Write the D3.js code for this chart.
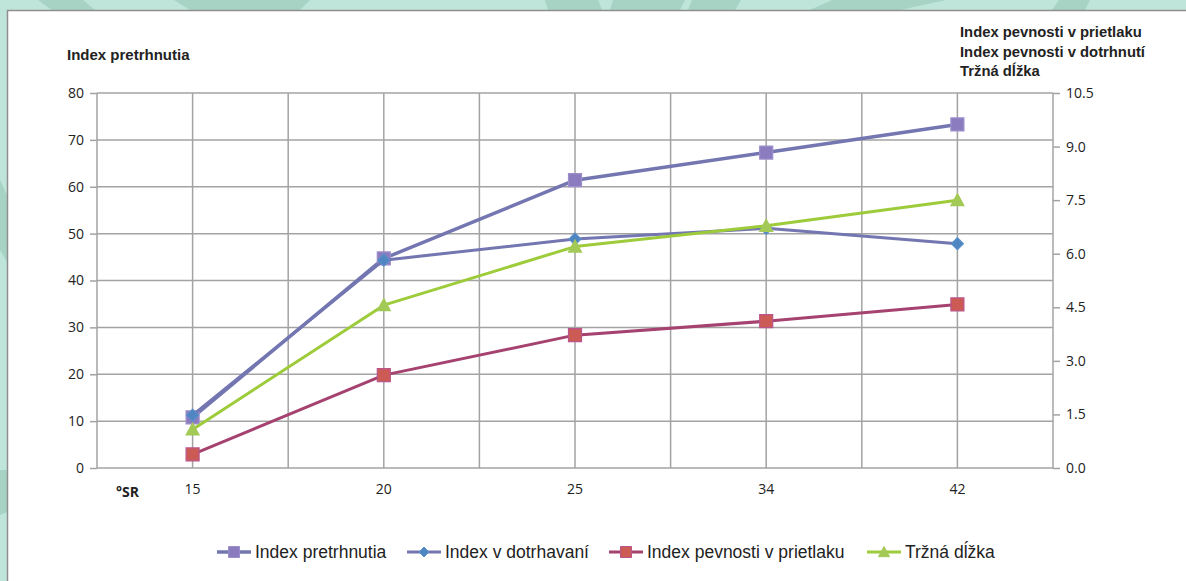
<!DOCTYPE html>
<html>
<head>
<meta charset="utf-8">
<script src="https://cdn.jsdelivr.net/npm/d3@7"></script>
<style>
  body { margin: 0; background: #bfe4d9; }
  svg { display: block; }
</style>
</head>
<body>
<div id="chart"></div>
<script>
// Chart data
const categories = ["15", "20", "25", "34", "42"];
const indexPretrhnutia = [10.8, 44.7, 61.4, 67.3, 73.3];      // left axis
const indexDotrhavani = [1.48, 5.82, 6.41, 6.71, 6.28];        // right axis
const indexPrietlaku = [0.38, 2.60, 3.72, 4.11, 4.58];         // right axis
const trznaDlzka = [1.08, 4.56, 6.20, 6.78, 7.50];             // right axis
const leftTicks = [0, 10, 20, 30, 40, 50, 60, 70, 80];
const rightTicks = [0, 1.5, 3, 4.5, 6, 7.5, 9, 10.5];

const width = 1186;
const height = 581;
const plot = { left: 97, right: 1053, top: 93, bottom: 468 };

const svg = d3.select("#chart").append("svg")
    .attr("width", width)
    .attr("height", height);

// Decorative background shapes
const bgShapes = [
    [[38, 0], [83, 0], [95, 10], [52, 10]],
    [[174, 0], [310, 0], [300, 10], [190, 10]],
    [[545, 0], [598, 0], [602, 10], [548, 10]],
    [[613, 0], [685, 0], [680, 10], [610, 10]],
    [[692, 0], [741, 0], [735, 10], [688, 10]],
    [[832, 0], [946, 0], [900, 10], [810, 10]],
    [[1059, 0], [1090, 0], [1085, 10], [1052, 10]],
    [[0, 180], [7, 195], [7, 262], [0, 250]],
    [[0, 470], [7, 470], [7, 512], [0, 515]]
];
svg.selectAll(".bg")
    .data(bgShapes)
    .enter().append("polygon")
    .attr("points", d => d.map(p => p.join(",")).join(" "))
    .attr("fill", "#a6d3c4");

// White panel
svg.append("rect")
    .attr("x", 7.5).attr("y", 10.5)
    .attr("width", width).attr("height", height)
    .attr("fill", "#ffffff")
    .attr("stroke", "#8f8f8f")
    .attr("stroke-width", 1.5);

// Scales
const x = d3.scaleBand()
    .domain(categories)
    .range([plot.left, plot.right])
    .padding(0);
const cx = d => x(d) + x.bandwidth() / 2;

const yLeft = d3.scaleLinear().domain([0, 80]).range([plot.bottom, plot.top]);
const yRight = d3.scaleLinear().domain([0, 10.5]).range([plot.bottom, plot.top]);

const gridColor = "#a3a3a3";
const grid = svg.append("g");

// Horizontal gridlines
grid.selectAll(".hgrid")
    .data(leftTicks)
    .enter().append("line")
    .attr("x1", plot.left).attr("x2", plot.right)
    .attr("y1", d => yLeft(d)).attr("y2", d => yLeft(d))
    .attr("stroke", gridColor).attr("stroke-width", 1.5);

// Vertical gridlines: band edges and band centres
const vLines = [];
categories.forEach(c => { vLines.push(x(c)); vLines.push(cx(c)); });
vLines.push(plot.right);
grid.selectAll(".vgrid")
    .data(vLines)
    .enter().append("line")
    .attr("x1", d => d).attr("x2", d => d)
    .attr("y1", plot.top).attr("y2", plot.bottom)
    .attr("stroke", gridColor).attr("stroke-width", 1.5);

// Left axis
const leftAxis = svg.append("g")
    .attr("transform", `translate(${plot.left},0)`)
    .call(d3.axisLeft(yLeft).tickValues(leftTicks).tickSize(7).tickPadding(6));
leftAxis.select(".domain").remove();
leftAxis.selectAll("line").attr("stroke", gridColor).attr("stroke-width", 1.5);
leftAxis.selectAll("text")
    .style("font-family", "'Open Sans', 'Noto Sans', sans-serif")
    .style("font-size", "14px")
    .attr("fill", "#222");

// Right axis
const rightAxis = svg.append("g")
    .attr("transform", `translate(${plot.right},0)`)
    .call(d3.axisRight(yRight).tickValues(rightTicks).tickSize(7).tickPadding(6)
        .tickFormat(d3.format(".1f")));
rightAxis.select(".domain").remove();
rightAxis.selectAll("line").attr("stroke", gridColor).attr("stroke-width", 1.5);
rightAxis.selectAll("text")
    .style("font-family", "'Open Sans', 'Noto Sans', sans-serif")
    .style("font-size", "14px")
    .attr("fill", "#222");

// Bottom axis labels
const bottomAxis = svg.append("g")
    .attr("transform", `translate(0,${plot.bottom})`)
    .call(d3.axisBottom(x).tickSize(0).tickPadding(16));
bottomAxis.select(".domain").remove();
bottomAxis.selectAll("text")
    .style("font-family", "'Open Sans', 'Noto Sans', sans-serif")
    .style("font-size", "14px")
    .attr("fill", "#222");

svg.append("text")
    .attr("x", 116).attr("y", 497)
    .style("font-family", "'Open Sans', 'Noto Sans', sans-serif")
    .style("font-size", "14px")
    .style("font-weight", "bold")
    .attr("fill", "#222")
    .text("°SR");

// Axis titles
svg.append("text")
    .attr("x", 67).attr("y", 60)
    .style("font-family", "'Liberation Sans', Arial, sans-serif")
    .style("font-size", "15px")
    .style("font-weight", "bold")
    .attr("fill", "#222")
    .text("Index pretrhnutia");

const rightTitle = ["Index pevnosti v prietlaku", "Index pevnosti v dotrhnutí", "Tržná dĺžka"];
svg.selectAll(".rtitle")
    .data(rightTitle)
    .enter().append("text")
    .attr("x", 960)
    .attr("y", (d, i) => 37 + i * 19.5)
    .style("font-family", "'Liberation Sans', Arial, sans-serif")
    .style("font-size", "14.8px")
    .style("font-weight", "bold")
    .attr("fill", "#222")
    .text(d => d);

// Series
const series = [
    { name: "Index pretrhnutia", values: indexPretrhnutia, y: yLeft, line: "#7376b0", width: 3.5,
      marker: "square", fill: "#8b7bbf", stroke: "#9c8ecb", size: 13, legendX: 217 },
    { name: "Index v dotrhavaní", values: indexDotrhavani, y: yRight, line: "#7376b0", width: 3,
      marker: "diamond", fill: "#4f86c2", stroke: "#5b8fca", size: 12, legendX: 407 },
    { name: "Index pevnosti v prietlaku", values: indexPrietlaku, y: yRight, line: "#a5426f", width: 3,
      marker: "square", fill: "#cd5b55", stroke: "#b9558a", size: 13, legendX: 609 },
    { name: "Tržná dĺžka", values: trznaDlzka, y: yRight, line: "#9dcb3a", width: 3,
      marker: "triangle", fill: "#a3c957", stroke: "#a3c957", size: 13, legendX: 867 }
];

function markerPath(type, s) {
    const h = s / 2;
    if (type === "square") return `M${-h},${-h}H${h}V${h}H${-h}Z`;
    if (type === "diamond") return `M0,${-h}L${h},0L0,${h}L${-h},0Z`;
    return `M0,${-h}L${h},${h * 0.85}L${-h},${h * 0.85}Z`;
}

series.forEach(s => {
    const line = d3.line()
        .x((d, i) => cx(categories[i]))
        .y(d => s.y(d));
    svg.append("path")
        .datum(s.values)
        .attr("d", line)
        .attr("fill", "none")
        .attr("stroke", s.line)
        .attr("stroke-width", s.width)
        .attr("stroke-linejoin", "round");
    svg.selectAll(null)
        .data(s.values)
        .enter().append("path")
        .attr("transform", (d, i) => `translate(${cx(categories[i])},${s.y(d)})`)
        .attr("d", markerPath(s.marker, s.size))
        .attr("fill", s.fill)
        .attr("stroke", s.stroke)
        .attr("stroke-width", 1.2);
});

// Legend
const legendY = 552;
series.forEach(s => {
    const g = svg.append("g").attr("transform", `translate(${s.legendX},${legendY})`);
    g.append("line")
        .attr("x1", 0).attr("x2", 34)
        .attr("stroke", s.line).attr("stroke-width", s.width);
    g.append("path")
        .attr("transform", "translate(17,0)")
        .attr("d", markerPath(s.marker, s.size - 2))
        .attr("fill", s.fill)
        .attr("stroke", s.stroke)
        .attr("stroke-width", 1);
    g.append("text")
        .attr("x", 38).attr("y", 6)
        .style("font-family", "'Liberation Sans', Arial, sans-serif")
        .style("font-size", "17.5px")
        .attr("fill", "#222")
        .text(s.name);
});
</script>
</body>
</html>
